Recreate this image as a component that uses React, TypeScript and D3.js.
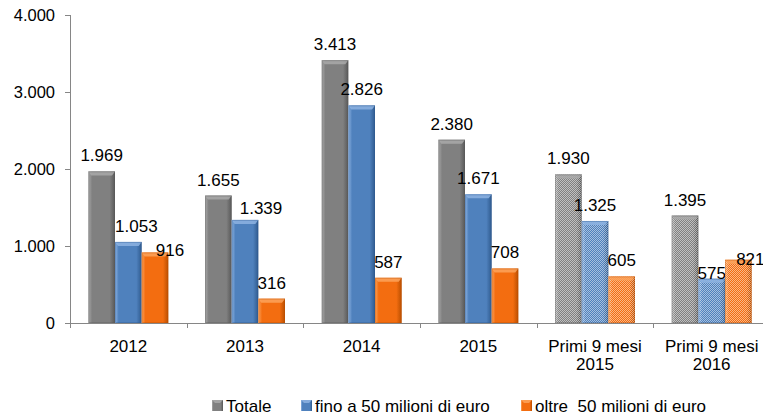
import React, { useEffect, useRef } from 'react';
import * as d3 from 'd3';

const categories = ['2012', '2013', '2014', '2015', 'Primi 9 mesi\n2015', 'Primi 9 mesi\n2016'];
const partial = [false, false, false, false, true, true];
const seriesNames = ['Totale', 'fino a 50 milioni di euro', 'oltre  50 milioni di euro'];
const totale = [1969, 1655, 3413, 2380, 1930, 1395];
const fino50 = [1053, 1339, 2826, 1671, 1325, 575];
const oltre50 = [916, 316, 587, 708, 605, 821];
const yTicks = [0, 1000, 2000, 3000, 4000];

const W = 763;
const H = 418;

// colours: [light edge, base, dark edge]
const palette = [
  ['#a9a9a9', '#808080', '#585858'],
  ['#8db3e2', '#4f81bd', '#2f5a8e'],
  ['#fba35c', '#f36d10', '#b94e00'],
];

// hand nudges for labels Excel moved to avoid overlap
const labelNudge: Record<string, [number, number]> = {
  '0-1': [8, 0],
  '0-2': [15, 14],
  '1-1': [16, 4],
  '5-1': [0, 10],
  '5-2': [12, 15],
};

const locale = d3.formatLocale({ decimal: ',', thousands: '.', grouping: [3], currency: ['€', ''] });
const fmt = locale.format(',d');

const App = () => {
  const ref = useRef<SVGSVGElement>(null);

  useEffect(() => {
    const svg = d3.select(ref.current);
    svg.selectAll('*').remove();
    const font = "'Liberation Sans', Arial, sans-serif";

    const series = [totale, fino50, oltre50];

    const x0 = d3.scaleBand<string>().domain(categories).range([70, 770]);
    const x1 = d3.scaleBand<number>().domain([0, 1, 2]).range([0, 80]);
    const y = d3.scaleLinear().domain([0, 4000]).range([323, 15]);

    const defs = svg.append('defs');
    palette.forEach((c, i) => {
      const g = defs.append('linearGradient').attr('id', 'grad' + i).attr('x1', 0).attr('x2', 1).attr('y1', 0).attr('y2', 0);
      g.append('stop').attr('offset', '0%').attr('stop-color', c[0]);
      g.append('stop').attr('offset', '14%').attr('stop-color', c[1]);
      g.append('stop').attr('offset', '80%').attr('stop-color', c[1]);
      g.append('stop').attr('offset', '100%').attr('stop-color', c[2]);
    });
    const pat = defs.append('pattern').attr('id', 'dots').attr('width', 2).attr('height', 2)
      .attr('patternUnits', 'userSpaceOnUse');
    pat.append('rect').attr('x', 0).attr('y', 0).attr('width', 1).attr('height', 1).attr('fill', '#fff').attr('opacity', 0.5);
    pat.append('rect').attr('x', 1).attr('y', 1).attr('width', 1).attr('height', 1).attr('fill', '#fff').attr('opacity', 0.5);

    // axes
    const axis = svg.append('g').attr('stroke', '#868686').attr('stroke-width', 1);
    axis.append('line').attr('x1', 70.5).attr('x2', 70.5).attr('y1', y(4000)).attr('y2', y(0));
    axis.append('line').attr('x1', 70).attr('x2', W).attr('y1', y(0) + 0.5).attr('y2', y(0) + 0.5);
    yTicks.forEach((t) => {
      axis.append('line').attr('x1', 65).attr('x2', 70).attr('y1', Math.round(y(t)) + 0.5).attr('y2', Math.round(y(t)) + 0.5);
    });
    categories.forEach((c) => {
      const xx = Math.round(x0(c)!) + 0.5;
      axis.append('line').attr('x1', xx).attr('x2', xx).attr('y1', y(0)).attr('y2', y(0) + 5);
    });

    svg.append('g').selectAll('text').data(yTicks).join('text')
      .attr('x', 55).attr('y', (d) => y(d)).attr('dy', '0.35em')
      .attr('text-anchor', 'end').style('font-family', font).attr('font-size', 16.5).attr('fill', '#000')
      .text((d) => fmt(d));

    // bars
    categories.forEach((c, ci) => {
      const gx = x0(c)! + x0.bandwidth() / 2 - 40;
      series.forEach((vals, si) => {
        const v = vals[ci];
        const bx = gx + x1(si)!;
        const bw = x1.bandwidth();
        const by = y(v);
        const bh = y(0) - by;
        const g = svg.append('g');
        g.append('rect').attr('x', bx).attr('y', by).attr('width', bw).attr('height', bh).attr('fill', `url(#grad${si})`);
        if (partial[ci]) {
          g.append('rect').attr('x', bx).attr('y', by).attr('width', bw).attr('height', bh).attr('fill', 'url(#dots)');
        }
        // top bevel
        g.append('path')
          .attr('d', `M${bx},${by}L${bx + bw},${by}L${bx + bw - 3},${by + 4}L${bx + 3},${by + 4}Z`)
          .attr('fill', palette[si][0]).attr('opacity', 0.85);
        g.append('rect').attr('x', bx + 0.5).attr('y', by + 0.5).attr('width', bw - 1).attr('height', bh - 1)
          .attr('fill', 'none').attr('stroke', palette[si][2]).attr('stroke-opacity', 0.35);

        const nudge = labelNudge[`${ci}-${si}`] || [0, 0];
        svg.append('text')
          .attr('x', bx + bw / 2 + nudge[0]).attr('y', by - 10 + nudge[1])
          .attr('text-anchor', 'middle').style('font-family', font).attr('font-size', 17).attr('fill', '#000')
          .text(fmt(v));
      });

      const lines = c.split('\n');
      const t = svg.append('text').attr('text-anchor', 'middle').style('font-family', font).attr('font-size', 17).attr('fill', '#000');
      lines.forEach((l, li) => {
        t.append('tspan').attr('x', x0(c)! + x0.bandwidth() / 2).attr('y', 352 + li * 18).text(l);
      });
    });

    // legend
    const legendX = [212, 301, 521];
    seriesNames.forEach((n, i) => {
      const lg = svg.append('g').attr('transform', `translate(${legendX[i]},400)`);
      lg.append('rect').attr('width', 11).attr('height', 11).attr('fill', `url(#grad${i})`);
      lg.append('path').attr('d', 'M0,0L11,0L8,3L3,3Z').attr('fill', palette[i][0]).attr('opacity', 0.85);
      lg.append('text').attr('x', 14).attr('y', 11.5).style('font-family', font).attr('font-size', 17)
        .attr('fill', '#000').style('white-space', 'pre').text(n);
    });
  }, []);

  return (
    <svg ref={ref} width={W} height={H} style={{ position: 'absolute', left: 0, top: 0, background: '#fff' }} />
  );
};

export default App;
